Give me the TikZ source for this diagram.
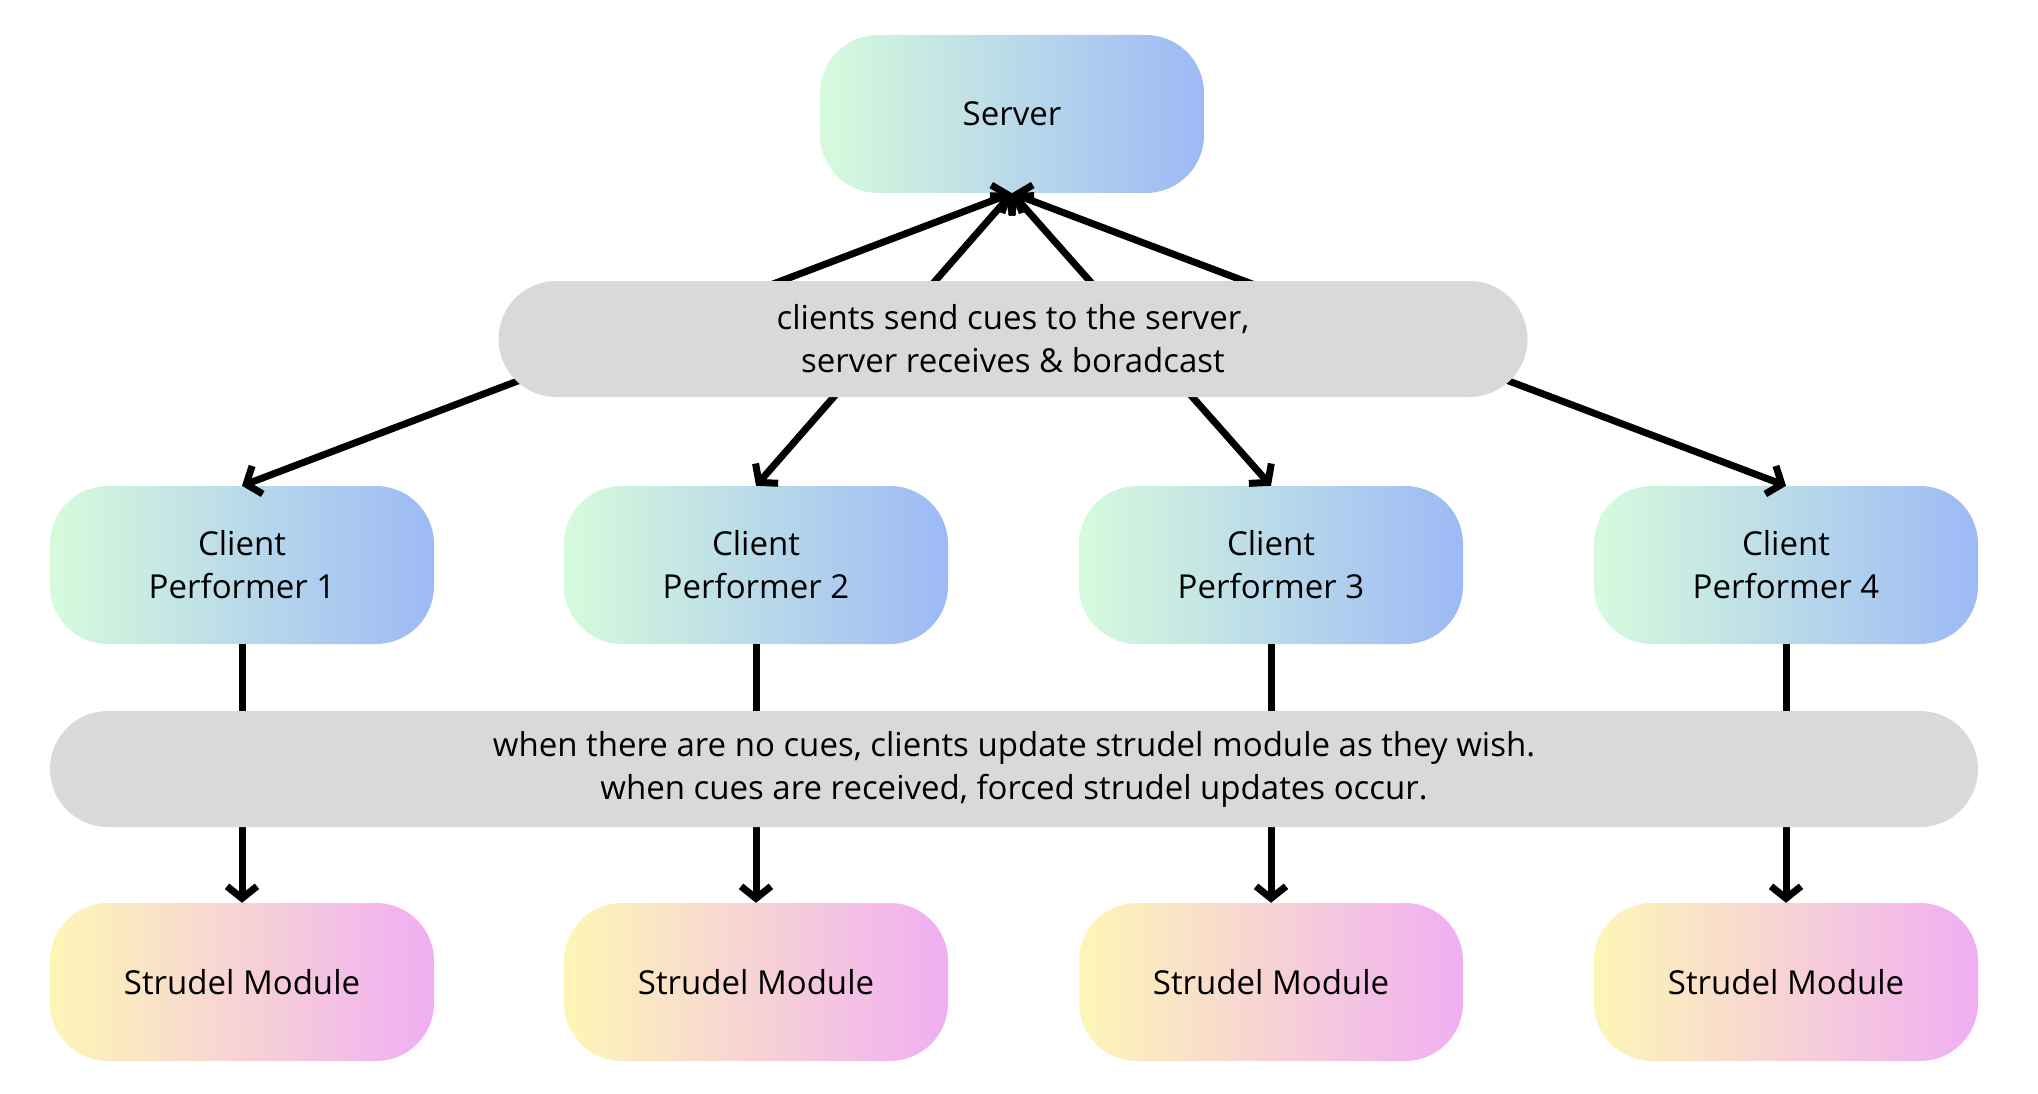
\documentclass[tikz,border=0pt]{standalone}
\usepackage{fontspec}
\setmainfont{Open Sans}
\usetikzlibrary{arrows.meta}
\definecolor{mint}{RGB}{214,251,220}
\definecolor{sky}{RGB}{157,185,246}
\definecolor{lemon}{RGB}{253,246,182}
\definecolor{orchid}{RGB}{240,174,243}
\definecolor{pale}{RGB}{217,217,217}
\tikzset{
  pill/.style={rectangle, rounded corners=58pt, minimum width=384pt, minimum height=158pt,
    inner sep=0pt, align=center, font=\fontsize{33}{43}\selectfont},
  bluebox/.style={pill, left color=mint, right color=sky},
  pinkbox/.style={pill, left color=lemon, right color=orchid},
  graybox/.style={rectangle, rounded corners=58pt, minimum height=116pt, inner sep=0pt,
    fill=pale, align=center, font=\fontsize{33}{43}\selectfont},
  link/.style={line width=7pt, line cap=round, line join=round,
    arrows={Straight Barb[length=12pt,width=30pt,line width=7pt]-Straight Barb[length=12pt,width=30pt,line width=7pt]}},
  flow/.style={line width=7pt, line cap=butt, line join=round,
    -{Straight Barb[length=12pt,width=30pt,line width=7pt]}}
}
\begin{document}
\begin{tikzpicture}[x=1pt,y=-1pt]
\useasboundingbox (0,0) rectangle (2038,1094);
\node[bluebox] (server) at (1012,114) {Server};
\foreach \i/\x in {1/242,2/756,3/1271,4/1786}{
  \node[bluebox] (c\i) at (\x,565) {Client\\Performer \i};
  \node[pinkbox] (s\i) at (\x,982) {Strudel Module};
  \draw[link] (server.south) -- (c\i.north);
  \draw[flow] (c\i.south) -- (s\i.north);
}
\node[graybox, minimum width=1029pt] (g1) at (1013,339) {clients send cues to the server,\\server receives \& boradcast};
\node[graybox, minimum width=1928pt] (g2) at (1014,769) {when there are no cues, clients update strudel module as they wish.\\when cues are received, forced strudel updates occur.};
\end{tikzpicture}
\end{document}
